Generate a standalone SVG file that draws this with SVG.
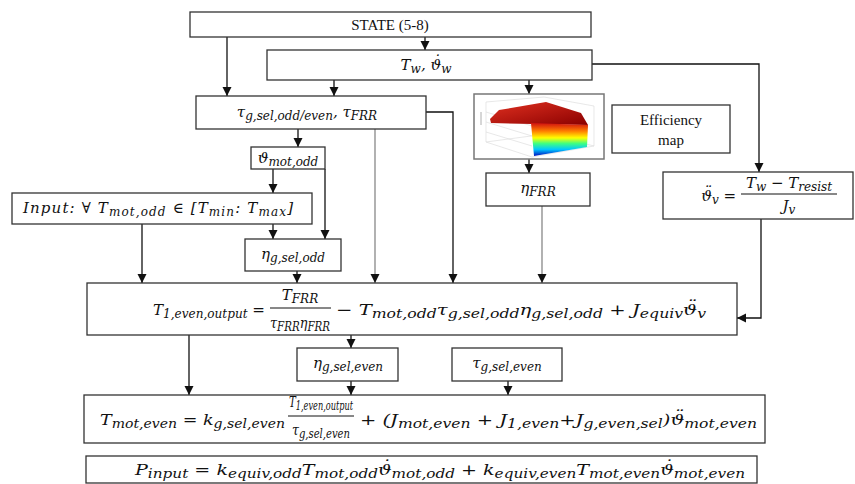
<svg xmlns="http://www.w3.org/2000/svg" width="855" height="484" viewBox="0 0 855 484">
<defs>
<style>
.b{fill:#fff;stroke:#333;stroke-width:1.3}
.m{font-family:"DejaVu Serif","Liberation Serif",serif;font-style:italic;font-size:15px;fill:#111}
.s{font-size:12px}
.r{font-family:"Liberation Serif","DejaVu Serif",serif;font-size:15px;fill:#111}
.c{stroke:#111;stroke-width:1.3;fill:none;marker-end:url(#a)}
.g{stroke:#888}
.fl{stroke:#111;stroke-width:1}
</style>
<marker id="a" markerUnits="userSpaceOnUse" markerWidth="10" markerHeight="10" refX="9" refY="5" orient="auto"><path d="M0,0.5 L9,5 L0,9.5 z" fill="#111"/></marker>
<linearGradient id="front" x1="0" y1="0" x2="0" y2="1">
<stop offset="0" stop-color="#d01010"/><stop offset="0.25" stop-color="#ff8000"/><stop offset="0.45" stop-color="#ffff00"/><stop offset="0.62" stop-color="#40ff80"/><stop offset="0.8" stop-color="#00c8ff"/><stop offset="1" stop-color="#0010c0"/>
</linearGradient>
<linearGradient id="top" x1="0" y1="0" x2="1" y2="1">
<stop offset="0" stop-color="#e03020"/><stop offset="1" stop-color="#8a0000"/>
</linearGradient>
</defs>
<g id="connectors">
<path class="c" d="M425,37 V50"/>
<path class="c" d="M227,37 V96"/>
<path class="c" d="M334,80 V96"/>
<path class="c" d="M529,80 V94"/>
<path class="c" d="M592,64 H759 V172"/>
<path class="c" d="M298,129 V147"/>
<path class="c g" d="M375,129 V283"/>
<path class="c" d="M426,112 H453 V283"/>
<path class="c" d="M529,159 V173"/>
<path class="c g" d="M542,206 V283"/>
<path class="c" d="M273,169 V193"/>
<path class="c" d="M273,224 V239"/>
<path class="c" d="M325,169 V239"/>
<path class="c" d="M142,224 V283"/>
<path class="c" d="M297,271 V283"/>
<path class="c" d="M761,219 V318 H737"/>
<path class="c" d="M189,335 V395"/>
<path class="c" d="M351,335 V348"/>
<path class="c" d="M351,381 V395"/>
<path class="c" d="M508,381 V395"/>
</g>
<g id="state"><rect class="b" x="190" y="12" width="401" height="25"/><text class="r" x="390" y="30" text-anchor="middle">STATE (5-8)</text></g>
<g id="tw"><rect class="b" x="267" y="50" width="325" height="30"/><text class="m" x="426" y="70" text-anchor="middle">T<tspan class="s" dy="3">w</tspan><tspan dy="-3">, ϑ</tspan><tspan dx="-8.5" dy="-4">˙</tspan><tspan class="s" dx="1" dy="7">w</tspan></text></g>
<g id="tau"><rect class="b" x="196" y="96" width="230" height="33"/><text class="m" x="307" y="117" text-anchor="middle">τ<tspan class="s" dy="3">g,sel,odd/even</tspan><tspan dy="-3">, τ</tspan><tspan class="s" dy="3">FRR</tspan></text></g>
<g id="map-image">
<rect x="474" y="94" width="130" height="65" fill="#fff" stroke="#777" stroke-width="1.5"/>
<path d="M486,102 V142 L532,157 L594,146 M486,102 L544,97 L594,106 V146 M486,142 L546,134 L594,146 M486,112 L532,126 M486,122 L532,136 M486,132 L532,146" fill="none" stroke="#d8d8d8" stroke-width="0.6"/>
<polygon points="490,119 499,110 546,102 581,113 588,125 533,124 491,123" fill="url(#top)"/>
<polygon points="531,123 588,125 587,147 534,156" fill="url(#front)"/>
<path d="M481,112 V125" stroke="#999" stroke-width="0.8"/>
</g>
<g id="effmap"><rect class="b" x="612" y="105" width="118" height="48"/><text class="r" x="671" y="125" text-anchor="middle">Efficiency</text><text class="r" x="671" y="145" text-anchor="middle">map</text></g>
<g id="theta-mot-odd"><rect class="b" x="251" y="147" width="74" height="22"/><text class="m" x="288" y="163" text-anchor="middle">ϑ<tspan class="s" dy="3">mot,odd</tspan></text></g>
<g id="eta-frr"><rect class="b" x="486" y="173" width="104" height="33"/><text class="m" x="538" y="193" text-anchor="middle">η<tspan class="s" dy="3">FRR</tspan></text></g>
<g id="theta-v"><rect class="b" x="663" y="172" width="190" height="47"/>
<text class="m" x="736" y="201" text-anchor="end">ϑ<tspan dx="-8.5" dy="-4">¨</tspan><tspan class="s" dx="1" dy="7">v</tspan><tspan dy="-3"> =</tspan></text>
<text class="m" x="789" y="188" text-anchor="middle">T<tspan class="s" dy="3">w</tspan><tspan dy="-3"> − T</tspan><tspan class="s" dy="3">resist</tspan></text>
<line class="fl" x1="741" y1="194" x2="837" y2="194"/>
<text class="m" x="789" y="211" text-anchor="middle">J<tspan class="s" dy="3">v</tspan></text></g>
<g id="input"><rect class="b" x="12" y="193" width="300" height="31"/><text class="m" x="23" y="213" textLength="270" lengthAdjust="spacing">Input: ∀ T<tspan class="s" dy="3">mot,odd</tspan><tspan dy="-3"> ∈ [T</tspan><tspan class="s" dy="3">min</tspan><tspan dy="-3">: T</tspan><tspan class="s" dy="3">max</tspan><tspan dy="-3">]</tspan></text></g>
<g id="eta-odd"><rect class="b" x="245" y="239" width="96" height="32"/><text class="m" x="293" y="259" text-anchor="middle">η<tspan class="s" dy="3">g,sel,odd</tspan></text></g>
<g id="t1"><rect class="b" x="87" y="283" width="650" height="52"/>
<text class="m" x="153" y="315" textLength="112" lengthAdjust="spacingAndGlyphs">T<tspan class="s" dy="3">1,even,output</tspan><tspan dy="-3"> =</tspan></text>
<text class="m" x="300" y="300" text-anchor="middle">T<tspan class="s" dy="3">FRR</tspan></text>
<line class="fl" x1="270" y1="308" x2="331" y2="308"/>
<text class="m" x="300" y="328" text-anchor="middle" textLength="60" lengthAdjust="spacingAndGlyphs">τ<tspan class="s" dy="3">FRR</tspan><tspan dy="-3">η</tspan><tspan class="s" dy="3">FRR</tspan></text>
<text class="m" x="336" y="315" textLength="370" lengthAdjust="spacingAndGlyphs">− T<tspan class="s" dy="3">mot,odd</tspan><tspan dy="-3">τ</tspan><tspan class="s" dy="3">g,sel,odd</tspan><tspan dy="-3">η</tspan><tspan class="s" dy="3">g,sel,odd</tspan><tspan dy="-3"> + J</tspan><tspan class="s" dy="3">equiv</tspan><tspan dy="-3">ϑ</tspan><tspan dx="-8.5" dy="-4">¨</tspan><tspan class="s" dx="1" dy="7">v</tspan></text></g>
<g id="eta-even"><rect class="b" x="297" y="348" width="101" height="33"/><text class="m" x="348" y="368" text-anchor="middle">η<tspan class="s" dy="3">g,sel,even</tspan></text></g>
<g id="tau-even"><rect class="b" x="452" y="348" width="110" height="33"/><text class="m" x="507" y="368" text-anchor="middle">τ<tspan class="s" dy="3">g,sel,even</tspan></text></g>
<g id="tmot"><rect class="b" x="84" y="395" width="681" height="48"/>
<text class="m" x="100" y="425" textLength="185" lengthAdjust="spacingAndGlyphs">T<tspan class="s" dy="3">mot,even</tspan><tspan dy="-3"> = k</tspan><tspan class="s" dy="3">g,sel,even</tspan></text>
<text class="m" x="321" y="407" text-anchor="middle" textLength="64" lengthAdjust="spacingAndGlyphs">T<tspan class="s" dy="3">1,even,output</tspan></text>
<line class="fl" x1="288" y1="416" x2="354" y2="416"/>
<text class="m" x="321" y="435" text-anchor="middle" textLength="58" lengthAdjust="spacingAndGlyphs">τ<tspan class="s" dy="3">g,sel,even</tspan></text>
<text class="m" x="360" y="425" textLength="397" lengthAdjust="spacingAndGlyphs">+ (J<tspan class="s" dy="3">mot,even</tspan><tspan dy="-3"> + J</tspan><tspan class="s" dy="3">1,even</tspan><tspan dy="-3">+J</tspan><tspan class="s" dy="3">g,even,sel</tspan><tspan dy="-3">)ϑ</tspan><tspan dx="-8.5" dy="-4">¨</tspan><tspan class="s" dx="1" dy="7">mot,even</tspan></text></g>
<g id="pinput"><rect class="b" x="86" y="456" width="671" height="27"/>
<text class="m" x="135" y="475" textLength="610" lengthAdjust="spacingAndGlyphs">P<tspan class="s" dy="3">input</tspan><tspan dy="-3"> = k</tspan><tspan class="s" dy="3">equiv,odd</tspan><tspan dy="-3">T</tspan><tspan class="s" dy="3">mot,odd</tspan><tspan dy="-3">ϑ</tspan><tspan dx="-8.5" dy="-4">˙</tspan><tspan class="s" dx="1" dy="7">mot,odd</tspan><tspan dy="-3"> + k</tspan><tspan class="s" dy="3">equiv,even</tspan><tspan dy="-3">T</tspan><tspan class="s" dy="3">mot,even</tspan><tspan dy="-3">ϑ</tspan><tspan dx="-8.5" dy="-4">˙</tspan><tspan class="s" dx="1" dy="7">mot,even</tspan></text></g>
</svg>
